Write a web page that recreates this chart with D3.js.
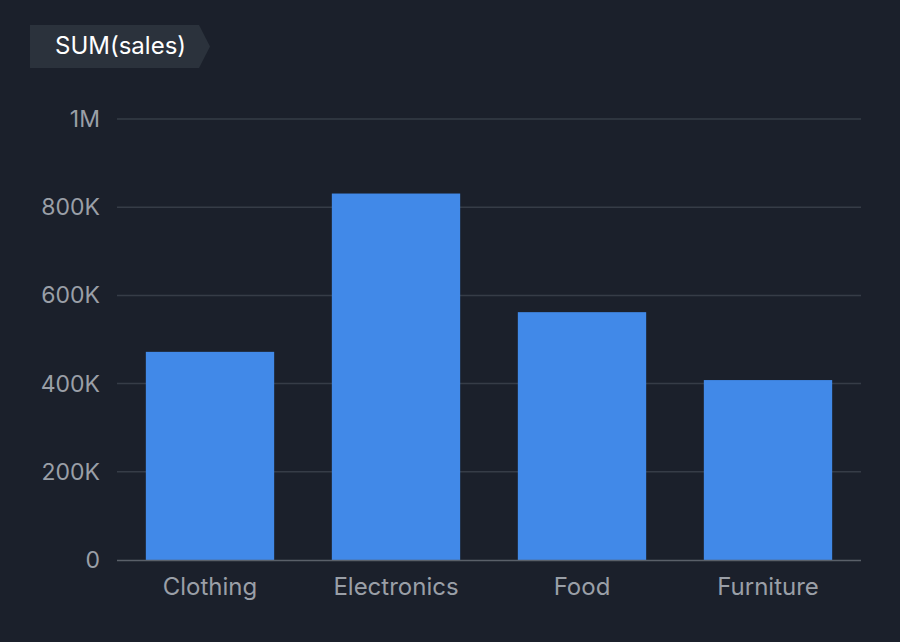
<!DOCTYPE html>
<html><head><meta charset="utf-8">
<script src="https://cdn.jsdelivr.net/npm/d3@7"></script>
<style>
html,body{margin:0;padding:0;background:#1b202b;}
svg{display:block;font-family:Inter,"Noto Sans",sans-serif;}
</style></head>
<body><svg id="c" width="900" height="642"></svg>
<script>
const categories = ["Clothing","Electronics","Food","Furniture"];
const sales = [472000, 831000, 562000, 408000];
const yTicks = [0, 200000, 400000, 600000, 800000, 1000000];
const yTickLabels = ["0","200K","400K","600K","800K","1M"];
const title = "SUM(sales)";

const svg = d3.select("#c");
svg.append("rect").attr("width",900).attr("height",642).attr("fill","#1b202b");

const x = d3.scaleBand().domain(categories).range([117,861]).paddingInner(0.31).paddingOuter(0.155);
const y = d3.scaleLinear().domain([0,1000000]).range([560,119]);

// grid
svg.append("g").selectAll("line").data(yTicks.filter(d=>d>0)).join("line")
  .attr("x1",117).attr("x2",861).attr("y1",d=>y(d)).attr("y2",d=>y(d))
  .attr("stroke","#363c47").attr("stroke-width",1.5);

// y labels
svg.append("g").selectAll("text").data(yTicks).join("text")
  .attr("x",100).attr("y",d=>y(d)).attr("dy","0.35em").attr("text-anchor","end")
  .attr("fill","#9a9fa7").attr("font-size",23).text((d,i)=>yTickLabels[i]);

// bars
svg.append("g").selectAll("rect").data(categories).join("rect")
  .attr("x",d=>x(d)).attr("width",x.bandwidth())
  .attr("y",(d,i)=>y(sales[i])).attr("height",(d,i)=>y(0)-y(sales[i]))
  .attr("fill","#4189e8");

// baseline
svg.append("line").attr("x1",117).attr("x2",861).attr("y1",y(0)+0.5).attr("y2",y(0)+0.5)
  .attr("stroke","#5a6069").attr("stroke-width",1.5);

// x labels
svg.append("g").selectAll("text").data(categories).join("text")
  .attr("x",d=>x(d)+x.bandwidth()/2).attr("y",595).attr("text-anchor","middle")
  .attr("fill","#9a9fa7").attr("font-size",24).text(d=>d);

// title badge
const g = svg.append("g");
g.append("path").attr("d","M30,25 H199 L210,46.5 L199,68 H30 Z").attr("fill","#2b323c");
g.append("text").attr("x",55).attr("y",46).attr("dy","0.35em").attr("fill","#ffffff")
  .attr("font-size",24).text(title);
</script></body></html>
